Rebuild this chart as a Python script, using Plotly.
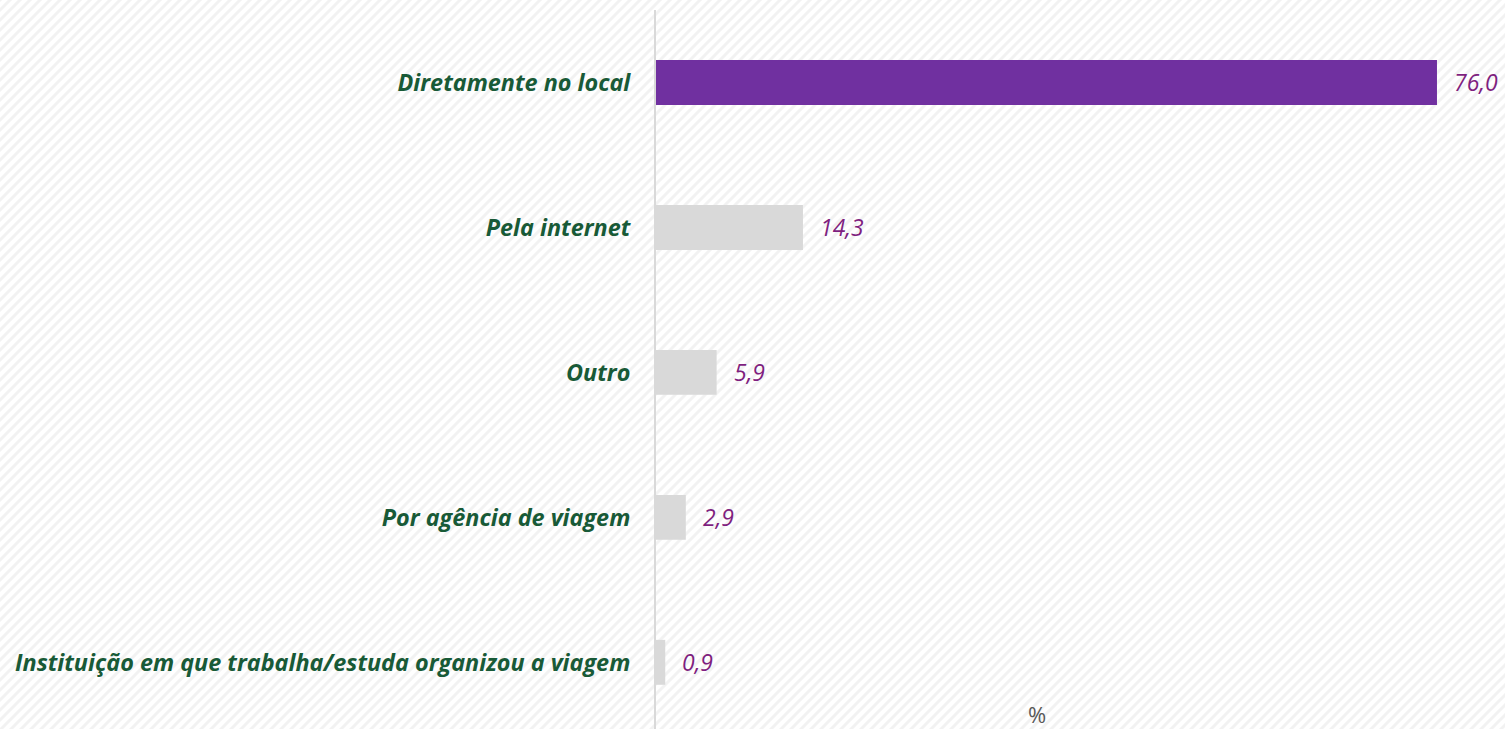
import base64
import plotly.graph_objects as go

categories = [
    "Diretamente no local",
    "Pela internet",
    "Outro",
    "Por agência de viagem",
    "Instituição em que trabalha/estuda organizou a viagem",
]
values = [76.0, 14.3, 5.9, 2.9, 0.9]
bar_colors = ["#7030A0", "#D9D9D9", "#D9D9D9", "#D9D9D9", "#D9D9D9"]
value_labels = [f"{v:.1f}".replace(".", ",") for v in values]

W, H = 1505, 729
L, T = 656, 10
PW, PH = W - L, H - T

svg = (
    f'<svg xmlns="http://www.w3.org/2000/svg" width="{W}" height="{H}">'
    '<defs><pattern id="p" width="10" height="10" patternUnits="userSpaceOnUse">'
    '<path d="M-2,2 L2,-2 M0,10 L10,0 M8,12 L12,8" stroke="#F2F2F2" stroke-width="3"/>'
    f'</pattern></defs><rect width="{W}" height="{H}" fill="#FFFFFF"/>'
    f'<rect width="{W}" height="{H}" fill="url(#p)"/></svg>'
)
bg_uri = "data:image/svg+xml;base64," + base64.b64encode(svg.encode()).decode()

font_family = "'Open Sans', Lato, sans-serif"

fig = go.Figure(
    go.Bar(
        x=values,
        y=categories,
        orientation="h",
        marker=dict(color=bar_colors, line=dict(width=0)),
        width=0.31,
        hoverinfo="x+y",
    )
)

annotations = [
    dict(
        x=v, y=c, text=t, xref="x", yref="y", xanchor="left", yanchor="middle",
        xshift=15, showarrow=False,
        font=dict(family=font_family, size=23, color="#7F1F7F", style="italic"),
    )
    for v, c, t in zip(values, categories, value_labels)
]
annotations.append(
    dict(
        text="%", xref="paper", yref="paper", x=(1037 - L) / PW, y=-2 / PH,
        xanchor="center", yanchor="bottom", showarrow=False,
        font=dict(family=font_family, size=22, color="#595959"),
    )
)

fig.update_layout(
    width=W,
    height=H,
    margin=dict(l=L, r=0, t=T, b=0),
    paper_bgcolor="rgba(0,0,0,0)",
    plot_bgcolor="rgba(0,0,0,0)",
    showlegend=False,
    images=[
        dict(
            source=bg_uri, xref="paper", yref="paper", x=-L / PW, y=1 + T / PH,
            sizex=W / PW, sizey=H / PH, sizing="stretch", layer="below",
            xanchor="left", yanchor="top",
        )
    ],
    xaxis=dict(
        range=[0, PW / 10.276],
        showgrid=False,
        showticklabels=False,
        zeroline=False,
        showline=False,
        ticks="",
    ),
    yaxis=dict(
        type="category",
        categoryorder="array",
        categoryarray=categories,
        range=[4.46, -0.5],
        showgrid=False,
        showline=True,
        linecolor="#D9D9D9",
        linewidth=2,
        ticks="",
        ticklabelstandoff=19,
        tickfont=dict(family=font_family, size=23.4, color="#185A37", weight="bold", style="italic"),
    ),
    annotations=annotations,
)

fig.write_html(
    "out.html",
    config={"displayModeBar": False},
    post_script="document.body.style.margin='0';document.body.style.overflow='hidden';",
)
